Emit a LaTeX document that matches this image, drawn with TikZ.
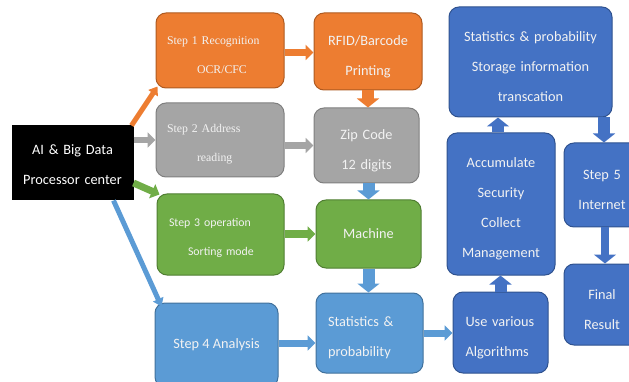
\documentclass[tikz,border=0pt]{standalone}
\usepackage{fontspec}
\setmainfont{Liberation Serif}
\newfontfamily\carlitofont{Carlito}
\usetikzlibrary{arrows.meta}
\definecolor{orF}{HTML}{ED7D31}\definecolor{orD}{HTML}{AE5A21}
\definecolor{grF}{HTML}{A5A5A5}\definecolor{grD}{HTML}{7F7F7F}
\definecolor{gnF}{HTML}{70AD47}\definecolor{gnD}{HTML}{507E32}
\definecolor{lbF}{HTML}{5B9BD5}\definecolor{lbD}{HTML}{41719C}
\definecolor{dbF}{HTML}{4472C4}\definecolor{dbD}{HTML}{2F528F}
\definecolor{txt}{HTML}{F2F2F2}
\tikzset{
  box/.style={rounded corners=10pt, line width=1pt, inner sep=0pt, text=txt, align=center},
  sansbox/.style={box, font=\carlitofont\fontsize{14.3}{30}\selectfont},
  serifbox/.style={box, font=\fontsize{11.8}{29}\selectfont, align=left},
  lift/.style={execute at begin node={\rule{0pt}{#1}}},
  harr/.style={line width=7pt, -{Triangle[length=8pt,width=15pt]}},
  varr/.style={line width=12pt, -{Triangle[length=9pt,width=22pt]}},
  darr/.style={line width=5pt, -{Triangle[length=8pt,width=11pt]}},
}
\begin{document}
\begin{tikzpicture}[x=1pt,y=-1pt]
\useasboundingbox (0,0) rectangle (629,382);
\clip (0,0) rectangle (629,382);
% nodes
\node[sansbox, lift=14pt, fill=black, draw=black, minimum width=121pt, minimum height=74pt, text width=111pt, text=white, rounded corners=0pt] (ai) at (72.5,163) {AI \& Big Data\\Processor center};
\node[serifbox, lift=17pt, fill=orF, draw=orD, minimum width=128pt, minimum height=75pt, text width=106pt] (s1) at (220,50.5) {Step 1 Recognition\\\hspace*{30pt}OCR/CFC};
\node[serifbox, lift=17pt, fill=grF, draw=grD, minimum width=128pt, minimum height=74pt, text width=106pt] (s2) at (220,140) {Step 2 Address\\\hspace*{30pt}reading};
\node[sansbox, lift=16pt, fill=gnF, draw=gnD, minimum width=127pt, minimum height=81pt, align=left, text width=103pt, font=\carlitofont\fontsize{11.8}{29}\selectfont] (s3) at (220.5,234.5) {Step 3 operation\\\hspace*{19pt}Sorting mode};
\node[sansbox, fill=lbF, draw=lbD, minimum width=123pt, minimum height=84pt] (s4) at (216.5,345) {Step 4 Analysis};
\node[sansbox, lift=20pt, fill=orF, draw=orD, minimum width=108pt, minimum height=77pt, text width=98pt] (rfid) at (368,51.5) {RFID/Barcode\\Printing};
\node[sansbox, lift=20pt, fill=grF, draw=grD, minimum width=105pt, minimum height=75pt, text width=95pt] (zip) at (366.5,145.5) {Zip Code\\12 digits};
\node[sansbox, fill=gnF, draw=gnD, minimum width=105pt, minimum height=68pt] (mach) at (368.5,234) {Machine};
\node[sansbox, lift=20pt, fill=lbF, draw=lbD, minimum width=107pt, minimum height=80pt, align=left, text width=83pt] (stat) at (369.5,333) {Statistics \&\\probability};
\node[sansbox, lift=20pt, fill=dbF, draw=dbD, minimum width=95pt, minimum height=81pt, align=left, text width=70pt] (use) at (500.5,332.5) {Use various\\Algorithms};
\node[sansbox, lift=20pt, fill=dbF, draw=dbD, minimum width=108pt, minimum height=142pt, text width=98pt] (acc) at (501,204) {Accumulate\\Security\\Collect\\Management};
\node[sansbox, lift=20pt, fill=dbF, draw=dbD, minimum width=163pt, minimum height=110pt, text width=150pt] (top) at (530.5,62) {Statistics \& probability\\Storage information\\transcation};
\node[sansbox, lift=20pt, fill=dbF, draw=dbD, minimum width=76pt, minimum height=84pt, text width=70pt] (s5) at (602,185) {Step 5\\Internet};
\node[sansbox, lift=20pt, fill=dbF, draw=dbD, minimum width=76pt, minimum height=81pt, text width=70pt] (fin) at (602,304.5) {Final\\Result};
% arrows
\draw[darr, orF] ([xshift=-2pt]ai.north east) -- ([xshift=2pt,yshift=2pt]s1.south west);
\draw[harr, grF, line width=6pt] (s2.west -| ai.east) -- (s2.west);
\draw[harr, gnF] ([yshift=-20pt]ai.east) -- ([xshift=3pt,yshift=-1pt]s3.north west);
\draw[darr, lbF] ([xshift=-20pt]ai.south east) -- ([xshift=7pt,yshift=-4pt]s4.north west);
\draw[harr, orF] ([yshift=-2pt]s1.east) -- ([yshift=-2pt]s1.east -| rfid.west);
\draw[harr, grF] (zip.west -| s2.east) -- (zip.west);
\draw[harr, gnF] (mach.west -| s3.east) -- (mach.west);
\draw[harr, lbF] ([yshift=2pt]s4.east) -- ([yshift=2pt]s4.east -| stat.west);
\draw[harr, lbF] (stat.east) -- (stat.east -| use.west);
\draw[varr, orF] (rfid.south) -- (rfid.south |- zip.north);
\draw[varr, lbF] ([xshift=2pt]zip.south) -- ([xshift=2pt]zip.south |- mach.north);
\draw[varr, lbF] (mach.south) -- (mach.south |- stat.north);
\draw[varr, dbF] (use.north) -- (use.north |- acc.south);
\draw[varr, dbF] ([xshift=-3pt]acc.north) -- ([xshift=-3pt]acc.north |- top.south);
\draw[varr, dbF] ([xshift=2pt]s5.north |- top.south) -- ([xshift=2pt]s5.north);
\draw[varr, dbF, line width=8pt] ([xshift=3pt]s5.south) -- ([xshift=3pt]fin.north);
\end{tikzpicture}
\end{document}
